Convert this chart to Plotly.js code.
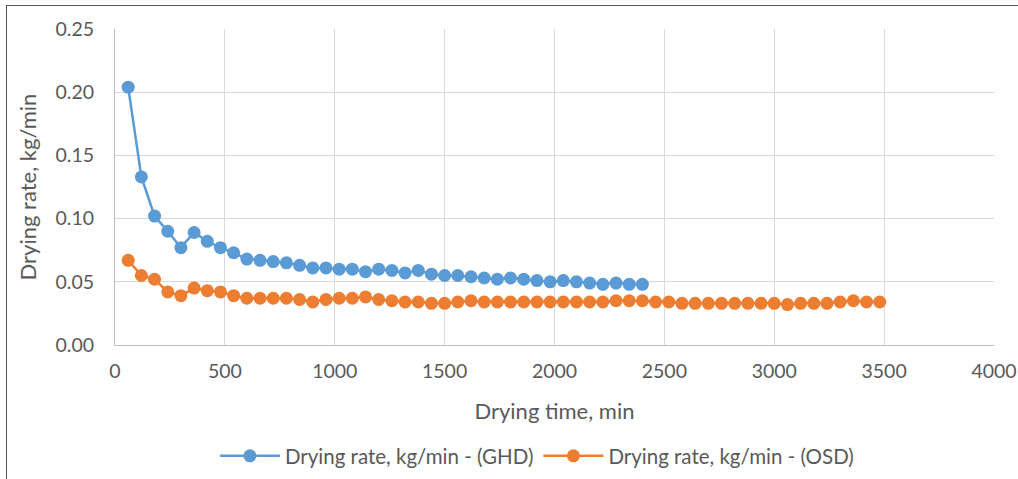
<!DOCTYPE html>
<html>
<head>
<meta charset="utf-8">
<script src="https://cdn.plot.ly/plotly-3.0.1.min.js"></script>
<style>
html,body{margin:0;padding:0;background:#fff;}
#wrap{position:relative;width:1018px;height:479px;}
#chart{width:1018px;height:479px;}
#frame{position:absolute;left:6px;top:5px;width:1012px;height:474px;border-left:1.5px solid #555;border-top:1.5px solid #555;pointer-events:none;}
</style>
</head>
<body>
<div id="wrap"><div id="chart"></div><div id="frame"></div></div>
<script>
const timeGHD = [60,120,180,240,300,360,420,480,540,600,660,720,780,840,900,960,1020,1080,1140,1200,1260,1320,1380,1440,1500,1560,1620,1680,1740,1800,1860,1920,1980,2040,2100,2160,2220,2280,2340,2400];
const rateGHD = [0.204,0.133,0.102,0.090,0.077,0.089,0.082,0.077,0.073,0.068,0.067,0.066,0.065,0.063,0.061,0.061,0.060,0.060,0.058,0.060,0.059,0.057,0.059,0.056,0.055,0.055,0.054,0.053,0.052,0.053,0.052,0.051,0.050,0.051,0.050,0.049,0.048,0.049,0.048,0.048];
const timeOSD = [60,120,180,240,300,360,420,480,540,600,660,720,780,840,900,960,1020,1080,1140,1200,1260,1320,1380,1440,1500,1560,1620,1680,1740,1800,1860,1920,1980,2040,2100,2160,2220,2280,2340,2400,2460,2520,2580,2640,2700,2760,2820,2880,2940,3000,3060,3120,3180,3240,3300,3360,3420,3480];
const rateOSD = [0.067,0.055,0.052,0.042,0.039,0.045,0.043,0.042,0.039,0.037,0.037,0.037,0.037,0.036,0.034,0.036,0.037,0.037,0.038,0.036,0.035,0.034,0.034,0.033,0.033,0.034,0.035,0.034,0.034,0.034,0.034,0.034,0.034,0.034,0.034,0.034,0.034,0.035,0.035,0.035,0.034,0.034,0.033,0.033,0.033,0.033,0.033,0.033,0.033,0.033,0.032,0.033,0.033,0.033,0.034,0.035,0.034,0.034];
const xTicks = [0,500,1000,1500,2000,2500,3000,3500,4000];
const yTicks = [0,0.05,0.10,0.15,0.20,0.25];
const seriesNames = ['Drying rate, kg/min - (GHD)','Drying rate, kg/min - (OSD)'];

const FONT = 'Lato, "Open Sans", sans-serif';
const GRAY = '#595959';
const traces = [
  {x: timeGHD, y: rateGHD, name: seriesNames[0], type: 'scatter', mode: 'lines+markers',
   line: {color: '#5B9BD5', width: 2.5}, marker: {color: '#5B9BD5', size: 13}},
  {x: timeOSD, y: rateOSD, name: seriesNames[1], type: 'scatter', mode: 'lines+markers',
   line: {color: '#ED7D31', width: 2.5}, marker: {color: '#ED7D31', size: 13}}
];
const layout = {
  width: 1018, height: 479,
  margin: {l: 115, r: 24, t: 29, b: 134},
  paper_bgcolor: '#fff', plot_bgcolor: '#fff',
  font: {family: FONT, color: GRAY, size: 19},
  showlegend: true,
  legend: {orientation: 'h', x: 0.48, xanchor: 'center', yref: 'container', y: 0.048, yanchor: 'middle',
           font: {family: FONT, size: 20.5, color: GRAY}, itemwidth: 60},
  xaxis: {range: [0, 4000], tickvals: xTicks, ticktext: xTicks.map(String), automargin: false,
          showgrid: true, gridcolor: '#D9D9D9', gridwidth: 1,
          showline: true, linecolor: '#BFBFBF', linewidth: 1, zeroline: false,
          ticks: '', ticklabelstandoff: 9, tickfont: {family: FONT, size: 19.5, color: GRAY},
          title: {text: 'Drying time, min', font: {family: FONT, size: 22, color: GRAY}, standoff: 22}},
  yaxis: {range: [0, 0.25], tickvals: yTicks, ticktext: yTicks.map(v => v.toFixed(2)), automargin: false,
          showgrid: true, gridcolor: '#D9D9D9', gridwidth: 1,
          showline: true, linecolor: '#BFBFBF', linewidth: 1, zeroline: false,
          ticks: '', ticklabelstandoff: 16, tickfont: {family: FONT, size: 19.5, color: GRAY},
          title: {text: 'Drying rate, kg/min', font: {family: FONT, size: 22, color: GRAY}, standoff: 12}}
};
Plotly.newPlot('chart', traces, layout, {displayModeBar: false, staticPlot: true});
</script>
</body>
</html>
